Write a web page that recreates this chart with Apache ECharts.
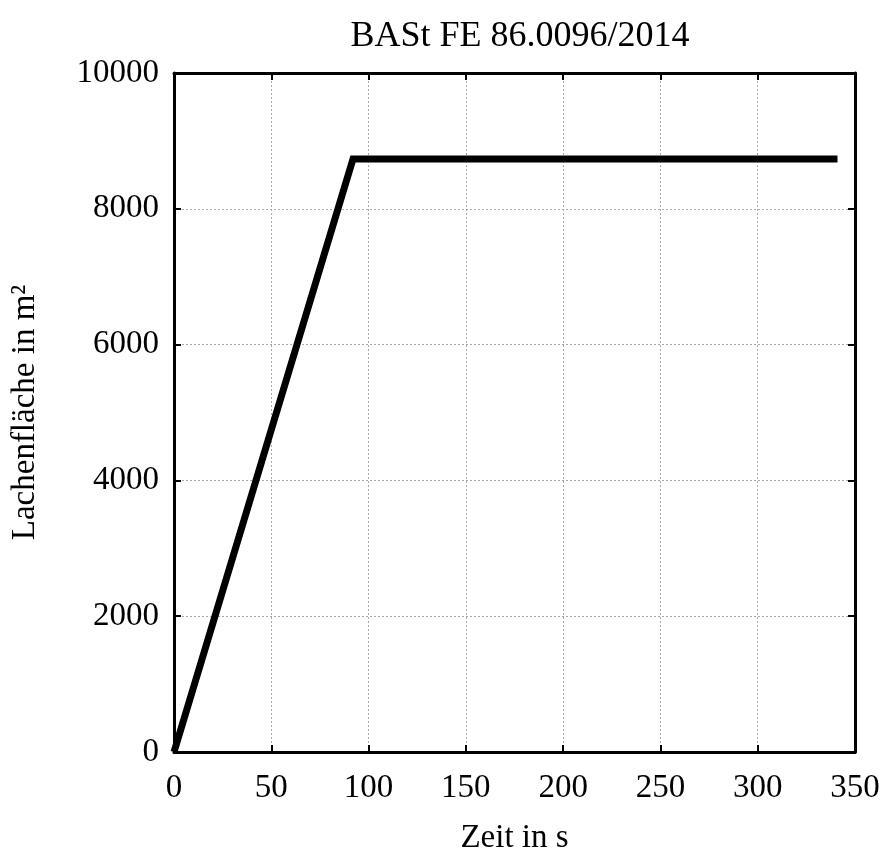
<!DOCTYPE html>
<html><head><meta charset="utf-8">
<script src="https://cdn.jsdelivr.net/npm/echarts@6/dist/echarts.min.js"></script>
<style>html,body{margin:0;padding:0;background:#fff}#c{width:886px;height:860px}</style>
</head><body><div id="c"></div>
<script>
const timeS = [0, 92, 341];
const area = [0, 8735, 8735];
const xTicks = [0, 50, 100, 150, 200, 250, 300, 350];
const yTicks = [0, 2000, 4000, 6000, 8000, 10000];
const titleText = 'BASt FE 86.0096/2014';
const xName = 'Zeit in s';
const yName = 'Lachenfläche in m²';

const font = '"Liberation Serif", "DejaVu Serif", serif';
const fs = 33;
const chart = echarts.init(document.getElementById('c'));
const baseAxis = {
  axisLine: {show: true, onZero: false, lineStyle: {color: '#000', width: 3}},
  axisTick: {show: true, inside: true, length: 7, lineStyle: {color: '#000', width: 2}},
  splitLine: {show: false}
};
chart.setOption({
  animation: false,
  title: {text: titleText, left: 515, top: 14, textAlign: 'center',
    textStyle: {fontFamily: font, fontWeight: 'normal', fontSize: 36, color: '#000'}},
  grid: {left: 174, right: 31, top: 73, bottom: 107},
  xAxis: [
    Object.assign({}, baseAxis, {type: 'value', min: xTicks[0], max: xTicks[xTicks.length - 1], interval: xTicks[1] - xTicks[0], position: 'bottom',
      name: xName, nameLocation: 'middle', nameGap: 70,
      nameTextStyle: {fontFamily: font, fontSize: fs, color: '#000'},
      axisLabel: {fontFamily: font, fontSize: fs, color: '#000', margin: 20, formatter: v => String(v)},
      splitLine: {show: true, lineStyle: {color: '#aaa', type: [2, 2], width: 1}}}),
    Object.assign({}, baseAxis, {type: 'value', min: xTicks[0], max: xTicks[xTicks.length - 1], interval: xTicks[1] - xTicks[0], position: 'top',
      axisLabel: {show: false}})
  ],
  yAxis: [
    Object.assign({}, baseAxis, {type: 'value', min: yTicks[0], max: yTicks[yTicks.length - 1], interval: yTicks[1] - yTicks[0], position: 'left',
      name: yName, nameLocation: 'middle', nameGap: 132,
      nameTextStyle: {fontFamily: font, fontSize: fs, color: '#000'},
      axisLabel: {fontFamily: font, fontSize: fs, color: '#000', margin: 15, formatter: v => String(v)},
      splitLine: {show: true, lineStyle: {color: '#aaa', type: [2, 2], width: 1}}}),
    Object.assign({}, baseAxis, {type: 'value', min: yTicks[0], max: yTicks[yTicks.length - 1], interval: yTicks[1] - yTicks[0], position: 'right',
      axisLabel: {show: false}})
  ],
  series: [{
    type: 'line', showSymbol: false, symbol: 'none',
    data: timeS.map((t, i) => [t, area[i]]),
    lineStyle: {color: '#000', width: 7, join: 'miter', cap: 'butt'}
  }]
});
</script></body></html>
